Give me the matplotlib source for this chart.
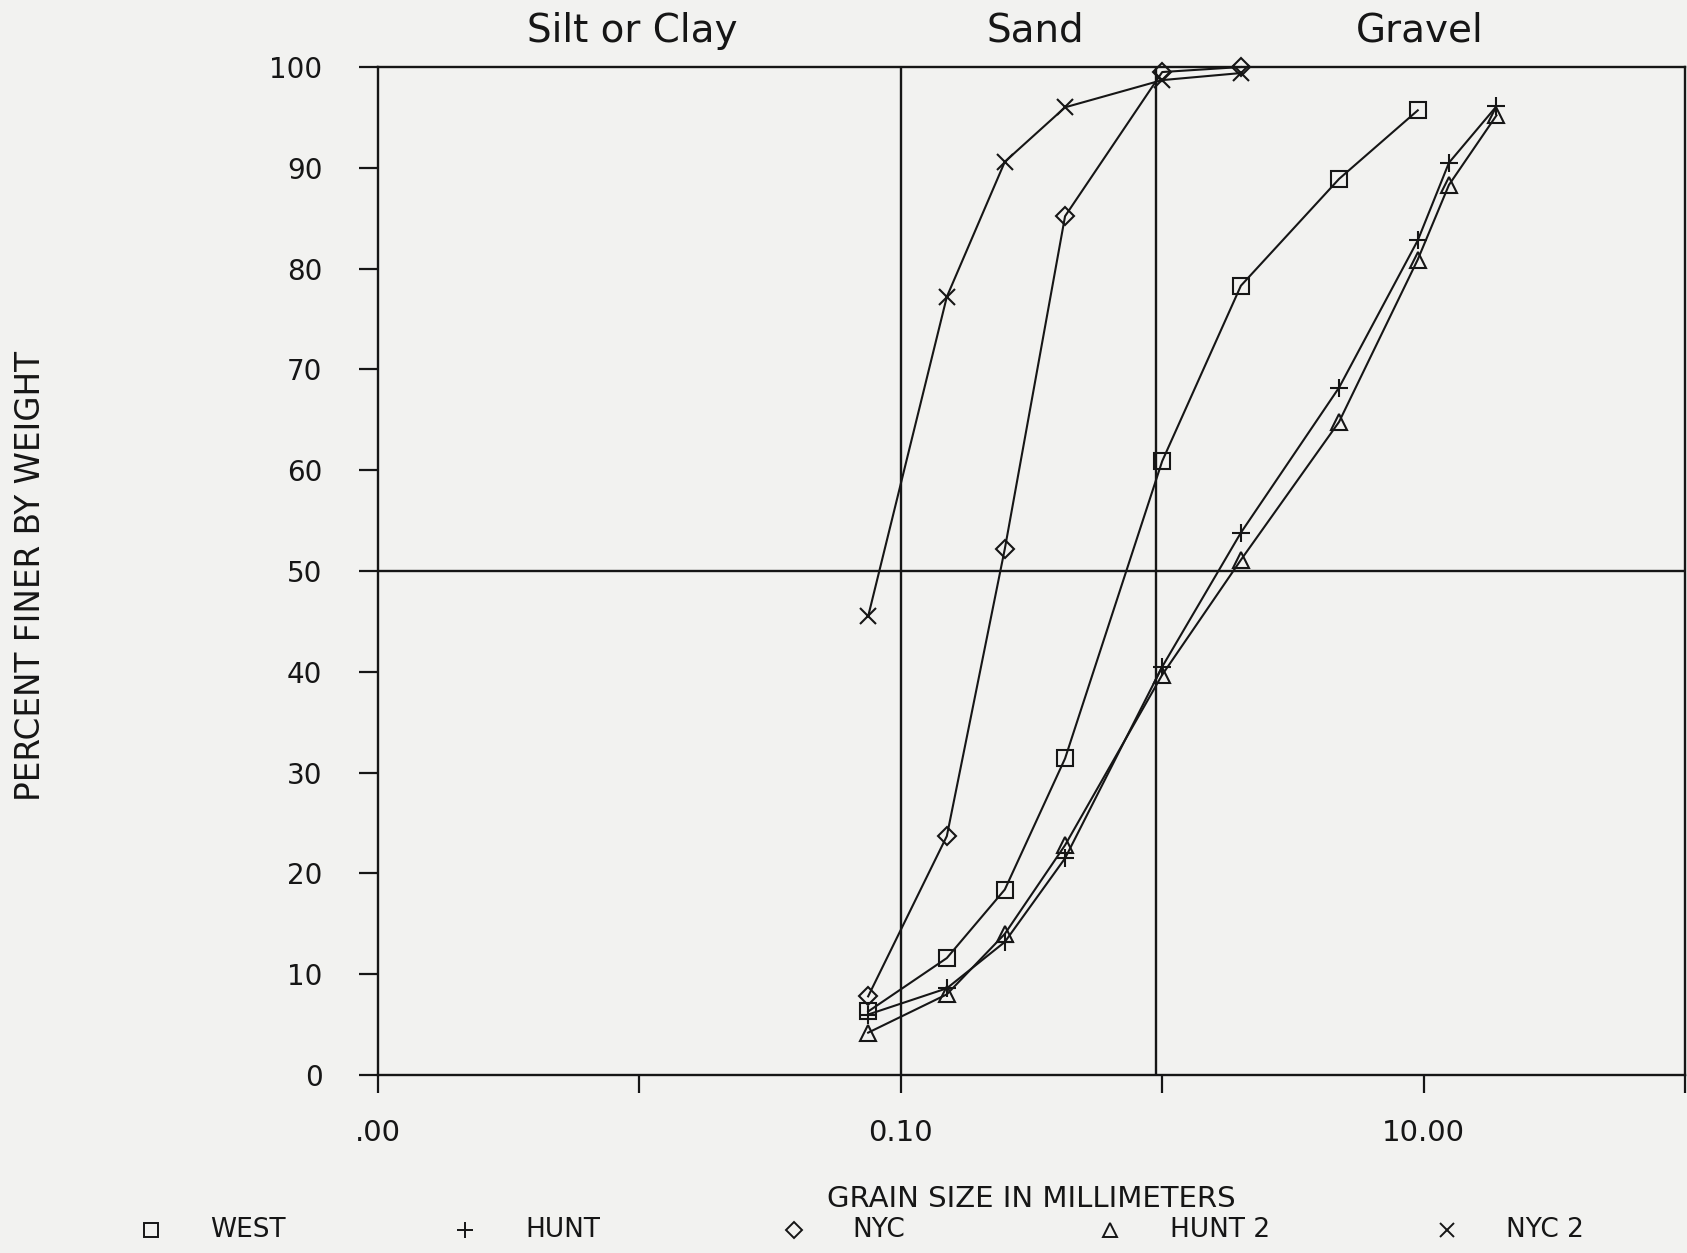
import matplotlib
matplotlib.use("Agg")
import matplotlib.pyplot as plt
from matplotlib.lines import Line2D

# sieve openings (mm) shared by all samples
sieves = [0.075, 0.15, 0.25, 0.425, 1.0, 2.0, 4.75, 9.5, 12.5, 19.0]

west = [6.3, 11.6, 18.4, 31.4, 60.9, 78.3, 88.9, 95.7]
hunt = [6.0, 8.6, 13.2, 21.5, 40.5, 53.8, 68.2, 82.8, 90.5, 96.1]
nyc = [7.8, 23.7, 52.2, 85.2, 99.5, 100.0]
hunt2 = [4.2, 8.0, 14.0, 22.8, 39.7, 51.1, 64.8, 80.9, 88.3, 95.2]
nyc2 = [45.5, 77.2, 90.6, 96.0, 98.7, 99.4]

series_names = ["WEST", "HUNT", "NYC", "HUNT 2", "NYC 2"]
series_values = [west, hunt, nyc, hunt2, nyc2]
series_markers = ["s", "+", "D", "^", "x"]
series_msize = [12, 13, 9.5, 12, 12]

region_names = ["Silt or Clay", "Sand", "Gravel"]
boundaries = [0.1, 0.95]

xticks = [0.001, 0.01, 0.1, 1.0, 10.0, 100.0]
xtick_labels = [".00", "", "0.10", "", "10.00", ""]
yticks = list(range(0, 101, 10))

ink = "#161616"
paper = "#f2f2f0"

W, H = 1687, 1253
fig = plt.figure(figsize=(W / 100, H / 100), dpi=100, facecolor=paper)
plt.rcParams["font.family"] = ["DejaVu Sans"]

ax = fig.add_axes([378 / W, 1 - 1075 / H, 1307 / W, 1008 / H])
ax.set_facecolor(paper)
ax.set_xscale("log")
ax.set_xlim(1e-3, 1e2)
ax.set_ylim(0, 100)

for b in boundaries:
    ax.axvline(b, color=ink, lw=1.7, zorder=1)
ax.axhline(50, color=ink, lw=1.7, zorder=1)

for name, vals, mk, ms in zip(series_names, series_values, series_markers, series_msize):
    ax.plot(sieves[:len(vals)], vals, color=ink, lw=1.5, marker=mk, ms=ms,
            mfc="none", mec=ink, mew=1.5, zorder=3, clip_on=False)

ax.set_xticks(xticks)
ax.set_xticklabels(xtick_labels)
ax.minorticks_off()
ax.set_yticks(yticks)
ax.tick_params(axis="x", direction="out", length=13, width=1.6, pad=19,
               labelsize=21, colors=ink)
ax.tick_params(axis="y", direction="out", length=14, width=1.6, pad=26,
               labelsize=20, colors=ink)
for sp in ax.spines.values():
    sp.set_color(ink)
    sp.set_linewidth(1.7)

ax.set_xlabel("GRAIN SIZE IN MILLIMETERS", fontsize=21, color=ink)
ax.xaxis.set_label_coords(0.5, (1075 - 1199) / 1008)
ax.xaxis.label.set_verticalalignment("center")
ax.set_ylabel("PERCENT FINER BY WEIGHT", fontsize=23.5, color=ink)
ax.yaxis.set_label_coords((31 - 378) / 1307, 0.495)
ax.yaxis.label.set_verticalalignment("center")

# region headings above the frame
for txt, px in zip(region_names, [632, 1035, 1420]):
    fig.text(px / W, 1 - 31 / H, txt, ha="center", va="center",
             fontsize=28, color=ink)

# legend row along the bottom
leg_y = 1 - 1230 / H
for name, mk, ms, mx, tx in zip(series_names, series_markers, series_msize,
                                [151, 465, 794, 1110, 1447],
                                [210, 525, 852, 1170, 1506]):
    fig.add_artist(Line2D([mx / W], [leg_y], transform=fig.transFigure,
                          marker=mk, ms=ms * 0.85, mfc="none", mec=ink,
                          mew=1.4, ls="none"))
    fig.text(tx / W, leg_y, name, ha="left", va="center", fontsize=19,
             color=ink)

fig.savefig("out.png", dpi=100, facecolor=paper)
